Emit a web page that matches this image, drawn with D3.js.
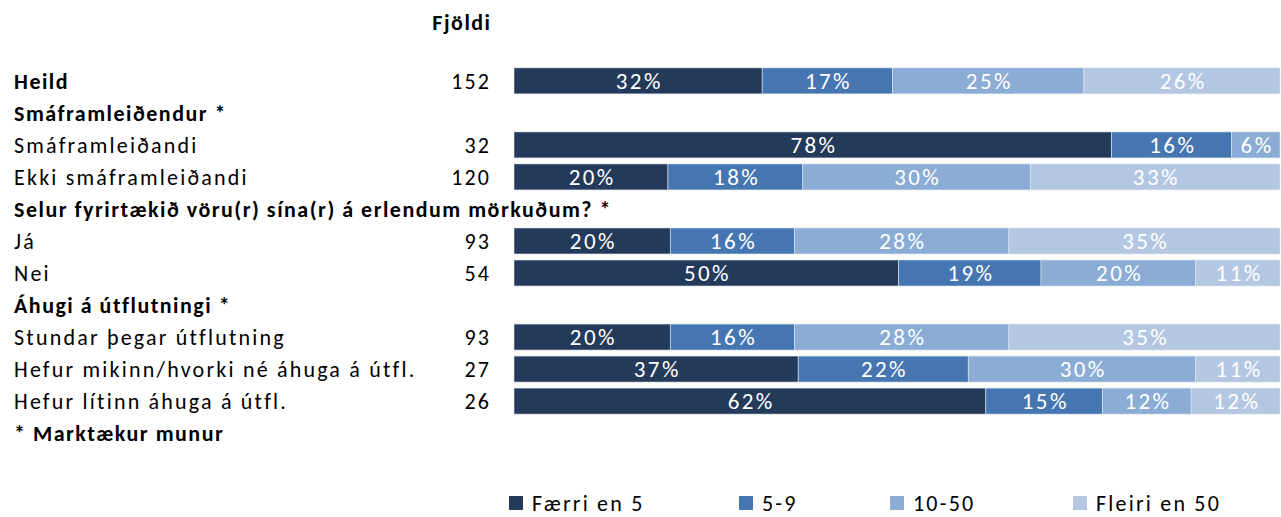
<!DOCTYPE html>
<html>
<head>
<meta charset="utf-8">
<script src="https://cdn.jsdelivr.net/npm/d3@7"></script>
<style>
  body { margin: 0; background: #fff; }
  svg text { font-family: Carlito, Lato, "Open Sans", sans-serif; }
</style>
</head>
<body>
<div id="chart"></div>
<script>
// Row labels (bold rows are group headers), counts and shares per size class
var rowLabels = [
  "Heild",
  "Smáframleiðendur *",
  "Smáframleiðandi",
  "Ekki smáframleiðandi",
  "Selur fyrirtækið vöru(r) sína(r) á erlendum mörkuðum? *",
  "Já",
  "Nei",
  "Áhugi á útflutningi *",
  "Stundar þegar útflutning",
  "Hefur mikinn/hvorki né áhuga á útfl.",
  "Hefur lítinn áhuga á útfl.",
  "* Marktækur munur"
];
var boldRows = [true, true, false, false, true, false, false, true, false, false, false, true];
var counts   = [152, null, 32, 120, null, 93, 54, null, 93, 27, 26, null];

var seriesNames = ["Færri en 5", "5-9", "10-50", "Fleiri en 50"];
var seriesColors = ["#243a5b", "#4676b2", "#8bacd4", "#b3c7e3"];

// percent values per row, null = no bar
var faerri  = [32.4, null, 78.0, 20.1, null, 20.4, 50.2, null, 20.4, 37.1, 61.6, null];
var s5_9    = [17.0, null, 15.7, 17.6, null, 16.2, 18.6, null, 16.2, 22.2, 15.2, null];
var s10_50  = [25.0, null,  6.3, 29.7, null, 28.0, 20.2, null, 28.0, 29.7, 11.6, null];
var fleiri  = [25.6, null,  0.0, 32.6, null, 35.4, 11.0, null, 35.4, 11.0, 11.6, null];

var countHeader = "Fjöldi";

function draw() {
  var width = 1281, height = 517;
  var fs = 22, lsReg = 2.2, lsBold = 1.5, lsPct = 2.4;

  var svg = d3.select("#chart").append("svg")
    .attr("width", width)
    .attr("height", height);

  var rows = rowLabels.map(function(lbl, i) {
    return { i: i, label: lbl, bold: boldRows[i], n: counts[i],
             v: [faerri[i], s5_9[i], s10_50[i], fleiri[i]] };
  });

  var y = d3.scaleBand()
    .domain(d3.range(rows.length))
    .range([65, 65 + 32 * rows.length])
    .paddingInner(0.1875)
    .paddingOuter(0.09);

  var x = d3.scaleLinear().domain([0, 100]).range([514, 1280]);

  // row labels
  svg.selectAll(".rowlabel")
    .data(rows)
    .enter().append("text")
      .attr("class", "rowlabel")
      .attr("x", 14)
      .attr("y", function(d) { return y(d.i) + y.bandwidth() / 2; })
      .attr("dy", "0.35em")
      .style("font-size", fs + "px")
      .style("letter-spacing", function(d) { return (d.bold ? lsBold : lsReg) + "px"; })
      .style("font-weight", function(d) { return d.bold ? "bold" : "normal"; })
      .style("fill", "#000")
      .text(function(d) { return d.label; });

  svg.append("text")
    .attr("x", 490 + lsBold)
    .attr("y", 22)
    .attr("dy", "0.35em")
    .attr("text-anchor", "end")
    .style("font-size", fs + "px")
    .style("letter-spacing", lsBold + "px")
    .style("font-weight", "bold")
    .text(countHeader);

  svg.selectAll(".count")
    .data(rows.filter(function(d) { return d.n != null; }))
    .enter().append("text")
      .attr("class", "count")
      .attr("x", 489 + lsReg)
      .attr("y", function(d) { return y(d.i) + y.bandwidth() / 2; })
      .attr("dy", "0.35em")
      .attr("text-anchor", "end")
      .style("font-size", fs + "px")
      .style("letter-spacing", lsReg + "px")
      .text(function(d) { return d.n; });

  // stacked bars
  var barRows = rows.filter(function(d) { return d.v[0] != null; });
  var segs = [];
  barRows.forEach(function(d) {
    var acc = 0;
    d.v.forEach(function(val, k) {
      if (val > 0) segs.push({ i: d.i, k: k, x0: acc, x1: acc + val, val: val });
      acc += val;
    });
  });

  var g = svg.append("g");
  g.selectAll("rect")
    .data(segs)
    .enter().append("rect")
      .attr("x", function(d) { return x(d.x0); })
      .attr("y", function(d) { return y(d.i); })
      .attr("width", function(d) { return x(d.x1) - x(d.x0); })
      .attr("height", y.bandwidth())
      .style("fill", function(d) { return seriesColors[d.k]; })
      .style("stroke", "#dfe6f0")
      .style("stroke-width", 0.6);

  g.selectAll("text")
    .data(segs)
    .enter().append("text")
      .attr("x", function(d) { return (x(d.x0) + x(d.x1)) / 2 + lsPct / 2; })
      .attr("y", function(d) { return y(d.i) + y.bandwidth() / 2; })
      .attr("dy", "0.36em")
      .attr("text-anchor", "middle")
      .style("font-size", "23px")
      .style("letter-spacing", lsPct + "px")
      .style("fill", "#fff")
      .text(function(d) { return Math.round(d.val) + "%"; });

  // legend
  var legendX = [509, 739, 890, 1073];
  var leg = svg.selectAll(".legend")
    .data(seriesNames)
    .enter().append("g")
      .attr("class", "legend")
      .attr("transform", function(d, i) { return "translate(" + legendX[i] + ",496)"; });
  leg.append("rect")
    .attr("width", 14).attr("height", 14)
    .style("fill", function(d, i) { return seriesColors[i]; });
  leg.append("text")
    .attr("x", 23)
    .attr("y", 7)
    .attr("dy", "0.35em")
    .style("font-size", fs + "px")
    .style("letter-spacing", lsReg + "px")
    .text(function(d) { return d; });
}

draw();
</script>
</body>
</html>
